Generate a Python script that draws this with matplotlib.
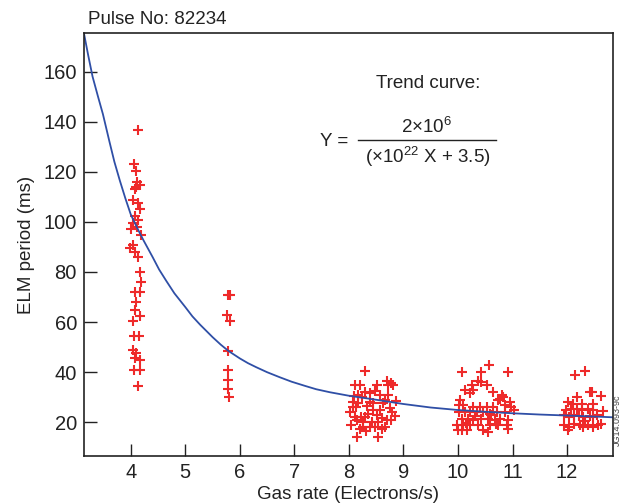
import matplotlib
matplotlib.use("Agg")
import matplotlib.pyplot as plt
from matplotlib.lines import Line2D

plt.rcParams['font.family'] = ['Liberation Sans', 'DejaVu Sans']
plt.rcParams['mathtext.fontset'] = 'custom'
plt.rcParams['mathtext.rm'] = 'Liberation Sans'

# ELM period measurements, grouped by gas rate cluster
x_4 = [4.13, 4.06, 4.10, 4.10, 4.17, 4.07, 4.04, 4.13, 4.17, 4.04, 4.13, 4.11, 4.18,
       4.04, 4.07, 4.13, 4.17, 4.18, 4.07, 4.17, 4.09, 4.07, 4.17, 4.04, 4.06, 4.15,
       4.04, 4.09, 4.07, 4.17, 4.06, 4.17, 4.13, 3.98, 4.00, 4.12, 4.08]
y_4 = [136.8, 123.2, 120.5, 114.1, 114.8, 113.0, 108.8, 107.5, 105.0, 99.6, 100.8, 98.0, 94.8,
       90.8, 88.0, 86.0, 80.0, 76.0, 72.0, 72.0, 68.0, 64.8, 62.4, 60.4, 54.4, 54.4,
       48.8, 47.6, 45.6, 44.8, 40.8, 40.8, 34.4, 89.5, 97.0, 116.0, 102.5]

x_6 = [5.78, 5.82, 5.76, 5.82, 5.78, 5.78, 5.78, 5.78, 5.80]
y_6 = [70.8, 70.8, 62.8, 60.4, 48.5, 40.8, 36.8, 33.2, 30.0]

x_8 = [8.29, 8.11, 8.20, 8.51, 8.69, 8.78, 8.72, 8.81, 8.29, 8.39, 8.17, 8.24, 8.57, 8.72,
       8.07, 8.17, 8.39, 8.45, 8.63, 8.07, 8.13, 8.45, 8.57, 8.75, 8.79, 8.11, 8.23, 8.29,
       8.51, 8.60, 8.14, 8.26, 8.42, 8.54, 8.69, 8.78, 8.20, 8.26, 8.39, 8.48, 8.60, 8.66,
       8.14, 8.54, 8.02, 8.04, 8.33, 8.35, 8.86, 8.48, 8.66, 8.31, 8.85, 8.09]
y_8 = [40.4, 34.8, 34.8, 34.8, 36.5, 35.5, 34.8, 34.8, 32.1, 31.5, 30.8, 30.1, 30.8, 30.8,
       28.1, 27.6, 28.1, 27.6, 27.6, 26.1, 26.1, 24.8, 24.8, 25.6, 24.0, 22.1, 22.1, 22.1,
       22.8, 21.9, 20.8, 20.1, 20.1, 20.1, 20.8, 20.8, 17.5, 18.1, 18.1, 18.1, 17.5, 18.1,
       14.1, 14.1, 24.0, 19.0, 26.5, 23.5, 28.5, 32.5, 29.0, 16.5, 22.5, 30.5]

x_10 = [10.57, 10.07, 10.43, 10.91, 10.37, 10.43, 10.25, 10.53, 10.13, 10.28, 10.65, 10.22,
        10.80, 10.77, 10.74, 10.83, 10.04, 10.01, 10.10, 10.95, 10.28, 10.40, 10.53, 10.65,
        10.98, 11.02, 10.01, 10.13, 10.22, 10.34, 10.46, 10.58, 10.71, 10.86, 10.07, 10.19,
        10.28, 10.43, 10.55, 10.67, 10.77, 10.92, 9.98, 10.10, 10.22, 10.37, 10.58, 10.74,
        10.89, 10.00, 10.07, 10.16, 10.46, 10.55, 10.92, 10.70, 10.60, 10.32, 10.86, 10.15]
y_10 = [42.8, 40.1, 40.1, 40.1, 36.5, 36.1, 34.8, 34.8, 32.8, 32.8, 32.1, 31.5,
        30.8, 29.5, 28.8, 30.1, 28.8, 26.8, 26.8, 28.1, 26.1, 26.1, 26.1, 26.1,
        26.1, 24.8, 24.1, 24.1, 24.1, 24.1, 24.1, 23.5, 24.1, 24.1, 21.5, 21.5,
        20.8, 21.5, 21.5, 20.8, 21.5, 20.8, 18.8, 18.8, 18.8, 18.8, 18.8, 18.8,
        18.8, 16.8, 16.8, 16.8, 16.8, 16.1, 17.5, 19.5, 22.8, 22.5, 27.0, 19.8]

x_12 = [12.15, 12.33, 12.18, 12.42, 12.45, 12.02, 12.11, 12.27, 12.48, 11.98, 12.07, 12.18,
        12.27, 12.39, 12.48, 11.95, 12.04, 12.13, 12.21, 12.30, 12.42, 12.48, 11.95, 12.04,
        12.13, 12.24, 12.30, 12.39, 12.48, 12.57, 12.02, 12.62, 12.65, 12.62, 12.33, 12.55]
y_12 = [38.8, 40.5, 30.1, 32.1, 32.1, 28.1, 27.5, 27.5, 27.5, 24.8, 25.5, 25.5,
        24.8, 25.5, 24.8, 22.8, 22.1, 22.8, 22.5, 22.1, 22.5, 22.1, 18.8, 18.1,
        19.5, 18.8, 18.1, 18.8, 18.1, 18.8, 16.8, 30.5, 24.5, 19.5, 20.5, 23.0]

# trend curve
curve_x = [3.14, 3.22, 3.3, 3.4, 3.49, 3.61, 3.7, 3.8, 3.9, 4.0, 4.12, 4.23, 4.4, 4.52,
           4.65, 4.8, 5.0, 5.13, 5.27, 5.5, 5.65, 5.79, 6.0, 6.15, 6.3, 6.5, 6.73, 6.95,
           7.2, 7.4, 7.65, 8.0, 8.25, 8.5, 9.0, 9.5, 10.0, 10.5, 11.0, 11.5, 12.0, 12.5, 12.84]
curve_y = [175.5, 166.5, 158, 150, 143, 132, 124, 116.5, 109.5, 103, 97.5, 92.8, 86, 81,
           76.5, 71.5, 66, 62.3, 59, 54, 51, 48.5, 45.5, 43.6, 42, 40, 38, 36.2,
           34.5, 33.2, 32, 30.6, 29.8, 29, 27.3, 25.9, 24.9, 24.2, 23.6, 23.1, 22.7, 22.3, 22.0]

xticks = [4, 5, 6, 7, 8, 9, 10, 11, 12]
yticks = [20, 40, 60, 80, 100, 120, 140, 160]

fig = plt.figure(figsize=(6.21, 5.04), dpi=100)
ax = fig.add_axes([0.135, 0.095, 0.852, 0.84])

red = '#ee2a2a'
for xs, ys in [(x_4, y_4), (x_6, y_6), (x_8, y_8), (x_10, y_10), (x_12, y_12)]:
    ax.plot(xs, ys, linestyle='none', marker='+', color=red, markersize=7.5,
            markeredgewidth=1.5)

ax.plot(curve_x, curve_y, color='#2f4fa6', linewidth=1.3)

ax.set_xlim(3.14, 12.84)
ax.set_ylim(6.5, 175.5)
ax.set_xticks(xticks)
ax.set_yticks(yticks)
ax.tick_params(direction='in', length=9, width=1, colors='#222222', labelsize=14.5,
               pad=5)
for s in ax.spines.values():
    s.set_color('#222222')
    s.set_linewidth(1.2)

ax.set_xlabel('Gas rate (Electrons/s)', fontsize=13.5, color='#222222', labelpad=3)
ax.set_ylabel('ELM period (ms)', fontsize=13.5, color='#222222', labelpad=6)

fig.text(88 / 621, 1 - 20 / 504, 'Pulse No: 82234', fontsize=13.5, color='#222222',
         ha='left', va='center')

fig.text(428 / 621, 1 - 83 / 504, 'Trend curve:', fontsize=13.5, color='#222222',
         ha='center', va='center')
fig.text(320 / 621, 1 - 142 / 504, 'Y =', fontsize=13.5, color='#222222',
         ha='left', va='center')
fig.text(427 / 621, 1 - 127 / 504, r'2$\times$10$^{6}$', fontsize=13.5, color='#222222',
         ha='center', va='center')
fig.text(428 / 621, 1 - 157 / 504, r'($\times$10$^{22}$ X + 3.5)', fontsize=13.5,
         color='#222222', ha='center', va='center')
fig.add_artist(Line2D([358 / 621, 496 / 621], [1 - 140 / 504, 1 - 140 / 504],
                      color='#222222', linewidth=1, transform=fig.transFigure))

fig.text(1 - 4 / 621, 1 - 420 / 504, 'JG14.093-9c', fontsize=6.5, color='#444444',
         rotation=90, ha='center', va='center')

fig.savefig('out.png', dpi=100)
